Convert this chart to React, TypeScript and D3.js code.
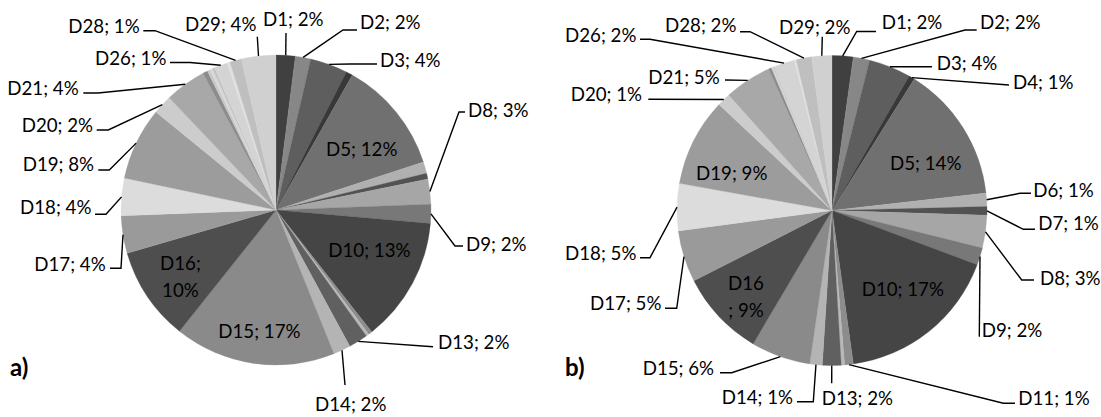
import React from "react";
import * as d3 from "d3";

// Category names shared by both pies
const categories = [
  "D1", "D2", "D3", "D4", "D5", "D6", "D7", "D8", "D9", "D10",
  "D11", "D12", "D13", "D14", "D15", "D16", "D17", "D18", "D19", "D20",
  "D21", "D22", "D23", "D24", "D25", "D26", "D27", "D28", "D29",
];

// Shares (%) for panel a)
const valuesA = [
  2.0, 1.6, 3.9, 0.7, 11.8, 1.2, 0.6, 2.6, 2.0, 13.0,
  0.4, 0.3, 2.0, 1.8, 16.8, 9.8, 3.9, 3.9, 7.6, 2.0,
  4.3, 0.5, 0.3, 0.3, 0.2, 1.4, 0.3, 1.2, 3.6,
];

// Shares (%) for panel b)
const valuesB = [
  2.2, 1.7, 4.4, 0.6, 14.3, 1.4, 0.9, 3.4, 1.8, 17.1,
  0.9, 0.35, 1.95, 1.3, 6.2, 9.0, 5.4, 4.9, 9.2, 1.4,
  4.9, 0.3, 0.1, 0.1, 0.1, 2.2, 0.2, 1.6, 2.1,
];

// Grey fill per category
const fills = [
  "#404040", "#878787", "#5e5e5e", "#383838", "#707070", "#b0b0b0", "#525252", "#a6a6a6", "#787878", "#454545",
  "#8c8c8c", "#b8b8b8", "#606060", "#b4b4b4", "#8a8a8a", "#4e4e4e", "#9a9a9a", "#dcdcdc", "#9c9c9c", "#cccccc",
  "#a8a8a8", "#8c8c8c", "#c8c8c8", "#d8d8d8", "#c0c0c0", "#d4d4d4", "#e0e0e0", "#bfbfbf", "#d0d0d0",
];

type LabelSpec = {
  name: string;
  x: number;          // left edge of text (or centre when split)
  y: number;          // baseline
  split?: "after" | "before"; // two-line label, break after or before the semicolon
  knee?: [number, number];
  end?: [number, number];
};

// Label placement for panel a)
const labelsA: LabelSpec[] = [
  { name: "D1", x: 263, y: 26, knee: [286, 33], end: [286, 33] },
  { name: "D2", x: 360, y: 29, knee: [343, 30], end: [357, 30] },
  { name: "D3", x: 380, y: 66.5, knee: [350, 64], end: [377, 64] },
  { name: "D5", x: 326, y: 155.7 },
  { name: "D8", x: 468, y: 117, knee: [459, 112], end: [465, 112] },
  { name: "D9", x: 466, y: 251, knee: [455, 246], end: [463, 246] },
  { name: "D10", x: 328.3, y: 256.5 },
  { name: "D13", x: 438, y: 349, knee: [433, 346.7], end: [433, 346.7] },
  { name: "D14", x: 315, y: 410.5, knee: [345, 385], end: [345, 385] },
  { name: "D15", x: 218.3, y: 338 },
  { name: "D16", x: 180.4, y: 270, split: "after" },
  { name: "D17", x: 34.3, y: 270.5, knee: [121, 268.3], end: [110, 268.3] },
  { name: "D18", x: 20, y: 214, knee: [106, 214.3], end: [95, 214.3] },
  { name: "D19", x: 22.7, y: 170.5, knee: [109.3, 170], end: [98.3, 170] },
  { name: "D20", x: 21.7, y: 132, knee: [108.3, 130], end: [96.7, 130] },
  { name: "D21", x: 7.3, y: 95, knee: [98, 93], end: [83.3, 93] },
  { name: "D26", x: 95, y: 65, knee: [190, 62.5], end: [170, 62.5] },
  { name: "D28", x: 68.3, y: 33.3, knee: [155, 30.7], end: [143.3, 30.7] },
  { name: "D29", x: 185, y: 30.5, knee: [257.3, 36.7], end: [257.3, 36.7] },
];

// Label placement for panel b)
const labelsB: LabelSpec[] = [
  { name: "D1", x: 881.7, y: 28.5, knee: [856.7, 31.5], end: [876, 31.5] },
  { name: "D2", x: 980, y: 28.5, knee: [965, 30], end: [976.7, 30] },
  { name: "D3", x: 936.7, y: 70, knee: [932, 66.7], end: [932, 66.7] },
  { name: "D4", x: 1013, y: 88.5, knee: [1009, 85], end: [1009, 85] },
  { name: "D5", x: 890, y: 170 },
  { name: "D6", x: 1033.3, y: 197, knee: [1020, 193.3], end: [1031, 193.3] },
  { name: "D7", x: 1038.3, y: 230, knee: [1023.3, 229.3], end: [1035, 229.3] },
  { name: "D8", x: 1040, y: 285, knee: [1021.7, 280], end: [1034, 280] },
  { name: "D9", x: 981.7, y: 337, knee: [979.3, 336.7], end: [979.3, 336.7] },
  { name: "D10", x: 861.7, y: 295.5 },
  { name: "D11", x: 1018.3, y: 405, knee: [1003.3, 403.3], end: [1015, 403.3] },
  { name: "D13", x: 821.7, y: 405, knee: [831.7, 383.3], end: [831.7, 383.3] },
  { name: "D14", x: 721.7, y: 404, knee: [813.3, 401.7], end: [797, 401.7] },
  { name: "D15", x: 642.7, y: 375, knee: [731.7, 372.7], end: [720, 372.7] },
  { name: "D16", x: 746, y: 290, split: "before" },
  { name: "D17", x: 590, y: 310, knee: [676.7, 308.3], end: [665, 308.3] },
  { name: "D18", x: 565, y: 260, knee: [650, 257.7], end: [640, 257.7] },
  { name: "D19", x: 696, y: 180 },
  { name: "D20", x: 570.7, y: 101, knee: [648.3, 99.3], end: [648.3, 99.3] },
  { name: "D21", x: 648.3, y: 83.5, knee: [725, 80], end: [725, 80] },
  { name: "D26", x: 565, y: 41.5, knee: [650, 39.3], end: [640, 39.3] },
  { name: "D28", x: 665, y: 31.5, knee: [750, 31.7], end: [740, 31.7] },
  { name: "D29", x: 779, y: 33.5, knee: [822.3, 36.7], end: [822.3, 36.7] },
];

const W = 1101;
const H = 417;
const R = 155;
const FONT = "Lato, 'Open Sans', sans-serif";
const FS = 18.7;

type Slice = { name: string; value: number; fill: string };

type PieProps = {
  cx: number;
  cy: number;
  values: number[];
  labels: LabelSpec[];
  tag: string;
  tagX: number;
};

function PiePanel({ cx, cy, values, labels, tag, tagX }: PieProps) {
  const data: Slice[] = categories.map((name, i) => ({ name, value: values[i], fill: fills[i] }));
  const total = d3.sum(values);
  const pie = d3.pie<Slice>().value((d) => d.value).sort(null);
  const arcs = pie(data);
  const arc = d3.arc<d3.PieArcDatum<Slice>>().innerRadius(0).outerRadius(R);
  const byName = new Map(arcs.map((a) => [a.data.name, a]));
  const line = d3.line();

  return (
    <g>
      <g transform={`translate(${cx},${cy})`}>
        {arcs.map((a) => (
          <path key={a.data.name} d={arc(a) ?? ""} fill={a.data.fill} stroke={a.data.fill} strokeWidth={0.3} />
        ))}
      </g>
      {labels.map((l) => {
        const a = byName.get(l.name)!;
        const pct = Math.round((a.data.value / total) * 100);
        const mid = (a.startAngle + a.endAngle) / 2;
        const px = cx + R * Math.sin(mid);
        const py = cy - R * Math.cos(mid);
        const leader =
          l.knee && l.end ? (
            <path d={line([[px, py], l.knee, l.end]) ?? ""} fill="none" stroke="#000" strokeWidth={1.4} />
          ) : null;
        let text;
        if (l.split) {
          const first = l.split === "after" ? `${l.name};` : l.name;
          const second = l.split === "after" ? `${pct}%` : `; ${pct}%`;
          text = (
            <text x={l.x} y={l.y} textAnchor="middle" fontFamily={FONT} fontSize={FS} fill="#000">
              <tspan x={l.x} y={l.y}>{first}</tspan>
              <tspan x={l.x} y={l.y + 27}>{second}</tspan>
            </text>
          );
        } else {
          text = (
            <text x={l.x} y={l.y} fontFamily={FONT} fontSize={FS} fill="#000">
              {`${l.name}; ${pct}%`}
            </text>
          );
        }
        return (
          <g key={l.name}>
            {leader}
            {text}
          </g>
        );
      })}
      <text x={tagX} y={376} fontFamily={FONT} fontWeight="bold" fontSize={24} fill="#000">
        {tag}
      </text>
    </g>
  );
}

export default function App() {
  return (
    <svg
      width={W}
      height={H}
      viewBox={`0 0 ${W} ${H}`}
      style={{ position: "absolute", left: 0, top: 0, background: "#fff" }}
    >
      <rect width={W} height={H} fill="#fff" />
      <PiePanel cx={276} cy={210} values={valuesA} labels={labelsA} tag="a)" tagX={10} />
      <PiePanel cx={832} cy={210.5} values={valuesB} labels={labelsB} tag="b)" tagX={565} />
    </svg>
  );
}
